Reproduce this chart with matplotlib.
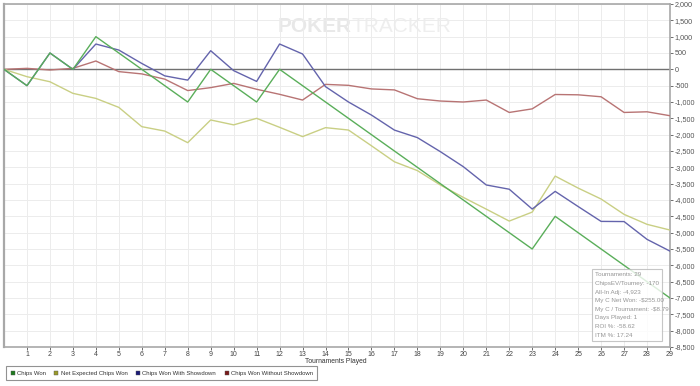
import matplotlib.pyplot as plt
from matplotlib.ticker import FuncFormatter, MultipleLocator

plt.rcParams["font.family"] = ["Liberation Sans", "DejaVu Sans"]

# Data
tournaments = list(range(0, 30))
chips_won = [0, -500, 500, 0, 1000, 500, 0, -500, -1000, 0, -500, -1000, 0, -500, -1000,
             -1500, -2000, -2500, -3000, -3500, -4000, -4500, -5000, -5500, -4500, -5000,
             -5500, -6000, -6500, -7000]
net_expected = [0, -225, -380, -735, -890, -1165, -1755, -1890, -2245, -1550, -1700, -1500,
                -1775, -2060, -1785, -1858, -2340, -2830, -3100, -3540, -3920, -4280, -4645,
                -4370, -3268, -3635, -3970, -4440, -4745, -4920]
won_showdown = [0, -500, 500, 0, 775, 590, 180, -200, -330, 570, -40, -370, 775, 470, -530,
                -1000, -1400, -1860, -2090, -2520, -2980, -3540, -3670, -4277, -3736, -4200,
                -4655, -4660, -5205, -5565]
won_no_showdown = [0, 30, -20, 30, 255, -70, -140, -300, -650, -560, -430, -610, -765, -940,
                   -460, -490, -600, -630, -900, -970, -1000, -940, -1320, -1210, -770, -780,
                   -840, -1320, -1300, -1420]

series_names = ["Chips Won", "Net Expected Chips Won", "Chips Won With Showdown",
                "Chips Won Without Showdown"]
line_colors = ["#5aae5a", "#c9cf84", "#6464ac", "#b87474"]
legend_colors = ["#1e7a1e", "#9a9a2a", "#1a1a78", "#7a1a1a"]

stats_lines = ["Tournaments: 29", "ChipsEV/Tourney: -170", "All-In Adj: -4,923",
               "My C Net Won: -$255.00", "My C / Tournament: -$8.79", "Days Played: 1",
               "ROI %: -58.62", "ITM %: 17.24"]

fig = plt.figure(figsize=(7, 3.86), dpi=100)
ax = fig.add_axes([4 / 700, 1 - 347 / 386, 666 / 700, 343 / 386])

grid_c = "#ececec"
ax.set_xlim(0, 29)
ax.set_ylim(-8500, 2000)
ax.xaxis.set_major_locator(MultipleLocator(1))
ax.yaxis.set_major_locator(MultipleLocator(500))
ax.grid(True, color=grid_c, linewidth=0.7)
ax.set_axisbelow(True)
ax.axhline(0, color="#707070", linewidth=1.0, zorder=1)

for vals, c in zip([won_no_showdown, net_expected, won_showdown, chips_won],
                   [line_colors[3], line_colors[1], line_colors[2], line_colors[0]]):
    ax.plot(tournaments, vals, color=c, linewidth=1.0, zorder=3)

ax.yaxis.tick_right()
ax.yaxis.set_major_formatter(FuncFormatter(lambda v, p: f"{int(v):,}"))
ax.set_xticks(range(1, 30))
ax.tick_params(axis="both", labelsize=5.2, colors="#555555", length=2, width=0.6, pad=1.5)
ax.tick_params(axis="x", labelcolor="#444444", labelsize=5, pad=1)
for s in ax.spines.values():
    s.set_color("#a8a8a8")
    s.set_linewidth(1.2)
ax.spines["left"].set_linewidth(1.6)

fig.text(336 / 700, 1 - 361.5 / 386, "Tournaments Played", fontsize=4.9, color="#333333",
         ha="center", va="center")

# watermark
ax.text(0.522, 0.935, "POKER", transform=ax.transAxes, fontsize=15, fontweight="bold",
        color="#e8e8e8", ha="right", va="center", zorder=0)
ax.text(0.522, 0.935, "TRACKER", transform=ax.transAxes, fontsize=15,
        color="#eeeeee", ha="left", va="center", zorder=0)

# stats box
fig.patches.append(plt.Rectangle((592 / 700, 1 - 341 / 386), 70 / 700, 72 / 386,
                                 transform=fig.transFigure, facecolor="white",
                                 edgecolor="#b8b8b8", linewidth=0.8, alpha=0.8, zorder=5))
for i, line in enumerate(stats_lines):
    fig.text(595 / 700, 1 - (275 + i * 8.6) / 386, line, fontsize=4.5, color="#959595",
             va="center", zorder=6)

# legend
handles = [plt.Line2D([], [], marker="s", linestyle="none", markersize=3.0,
                      markerfacecolor=c, markeredgecolor="#555555", markeredgewidth=0.3)
           for c in legend_colors]
leg = fig.legend(handles, series_names, loc="lower left", bbox_to_anchor=(3 / 700, 3 / 386),
                 ncol=4, fontsize=4.3, frameon=True, fancybox=False, handletextpad=0.3,
                 columnspacing=1.4, borderpad=0.7, handlelength=0.8)
leg.get_frame().set_edgecolor("#777777")
leg.get_frame().set_linewidth(0.8)
for t in leg.get_texts():
    t.set_color("#333333")

fig.savefig("out.png", dpi=100)
